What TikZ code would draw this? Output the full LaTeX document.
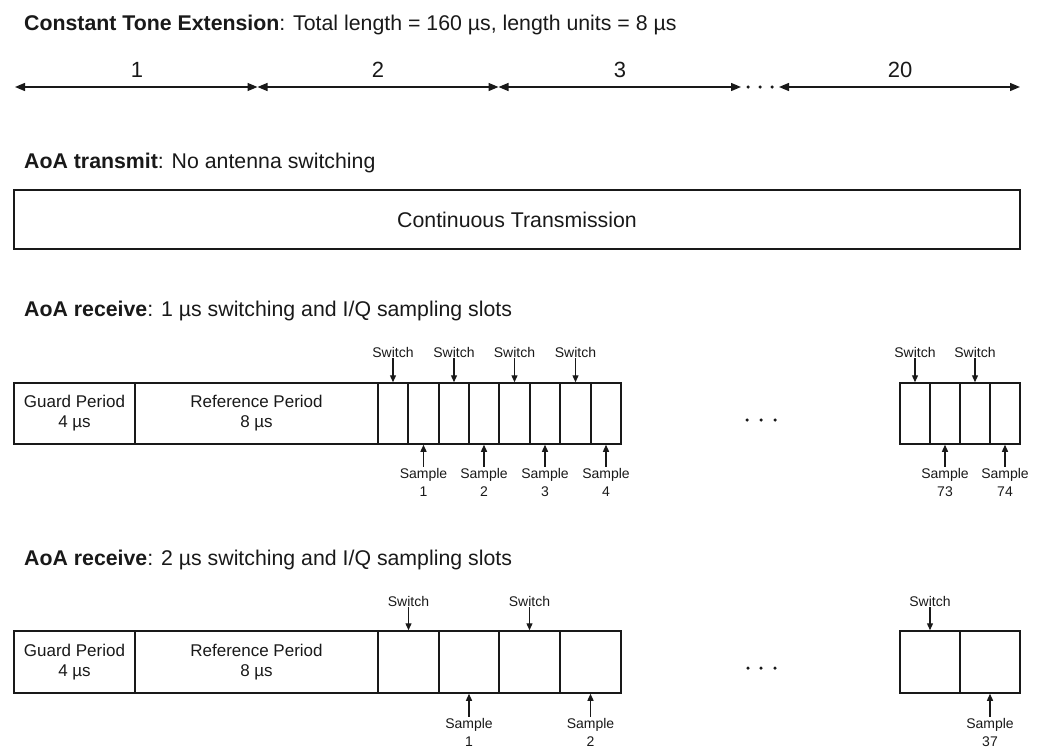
\documentclass[tikz,border=0pt]{standalone}
\usepackage{fontspec}
\setmainfont{Liberation Sans}
\usetikzlibrary{arrows.meta}
\begin{document}
\begin{tikzpicture}[x=1pt,y=-1pt,
  dim/.style={line width=1.4pt, draw=black!90, {Triangle[length=10pt,width=8pt]}-{Triangle[length=10pt,width=8pt]}},
  ptr/.style={line width=1.3pt, draw=black!90, -{Triangle[length=7pt,width=6pt]}},
  heading/.style={anchor=west, font=\fontsize{21.3}{24}\selectfont, inner sep=0pt, text=black!90},
  num/.style={font=\fontsize{22}{24}\selectfont, inner sep=0pt, text=black!90},
  cell/.style={draw=black!90, line width=1.5pt, minimum height=61pt, inner sep=0pt, align=center, font=\fontsize{17}{20}\selectfont, text=black!90},
  tag/.style={font=\fontsize{14}{18}\selectfont, inner sep=1pt, align=center, text=black!90},
  dot/.style={fill=black!90, circle, inner sep=0pt, minimum size=3.5pt}
]
\useasboundingbox (0,0) rectangle (1037,747);

% ---- Constant Tone Extension ----
\node[heading] (title) at (24,25) {\textbf{Constant Tone Extension}: Total length = 160 µs, length units = 8 µs};
\coordinate (a0) at (15,87);
\coordinate (a1) at (257.5,87);
\coordinate (a2) at (498.5,87);
\coordinate (a3) at (741,87);
\coordinate (a4) at (779,87);
\coordinate (a5) at (1020,87);
\draw[dim] (a0) -- (a1);
\draw[dim] (a1) -- (a2);
\draw[dim] (a2) -- (a3);
\draw[dim] (a4) -- (a5);
\node[num] (n1) at (137,70) {1};
\node[num] (n2) at (378,70) {2};
\node[num] (n3) at (620,70) {3};
\node[num] (n20) at (900,70) {20};
\node[dot] (d1) at (748,87) {};
\node[dot] (d2) at (760,87) {};
\node[dot] (d3) at (772,87) {};

% ---- AoA transmit ----
\node[heading] (txh) at (24,163) {\textbf{AoA transmit}: No antenna switching};
\node[cell, minimum width=1006pt, minimum height=59pt, font=\fontsize{21.3}{24}\selectfont] (tx) at (517,219.5) {Continuous Transmission};

% ---- AoA receive 1 us ----
\node[heading] (r1h) at (24,311) {\textbf{AoA receive}: 1 µs switching and I/Q sampling slots};
\node[cell, minimum width=121pt] (g1) at (74.5,413.5) {Guard Period\\4 µs};
\node[cell, minimum width=243pt] (p1) at (256.5,413.5) {Reference Period\\8 µs};
\foreach \i/\l/\r in {1/378/408,2/408/439,3/439/469,4/469/499,5/499/530,6/530/560,7/560/591,8/591/621} {
  \pgfmathsetmacro\xx{(\l+\r)/2}
  \pgfmathsetmacro\ww{\r-\l}
  \node[cell, minimum width=\ww pt] (ra\i) at (\xx,413.5) {};
}
\foreach \i in {1,3,5,7} {
  \node[tag] (raw\i) at (ra\i.center |- 0,352) {Switch};
  \draw[ptr] (raw\i.south) -- (ra\i.north);
}
\foreach \i/\k in {2/1,4/2,6/3,8/4} {
  \node[tag] (ras\i) at (ra\i.center |- 0,482) {Sample\\\k};
  \draw[ptr] (ras\i.north) -- (ra\i.south);
}
\node[dot] (e1) at (747,420) {};
\node[dot] (e2) at (761,420) {};
\node[dot] (e3) at (775,420) {};
\foreach \i in {1,...,4} {
  \pgfmathsetmacro\xx{900+30*(\i-0.5)}
  \node[cell, minimum width=30pt] (rb\i) at (\xx,413.5) {};
}
\foreach \i in {1,3} {
  \node[tag] (rbw\i) at (rb\i.center |- 0,352) {Switch};
  \draw[ptr] (rbw\i.south) -- (rb\i.north);
}
\foreach \i/\k in {2/73,4/74} {
  \node[tag] (rbs\i) at (rb\i.center |- 0,482) {Sample\\\k};
  \draw[ptr] (rbs\i.north) -- (rb\i.south);
}

% ---- AoA receive 2 us ----
\node[heading] (r2h) at (24,560) {\textbf{AoA receive}: 2 µs switching and I/Q sampling slots};
\node[cell, minimum width=121pt, minimum height=62pt] (g2) at (74.5,662) {Guard Period\\4 µs};
\node[cell, minimum width=243pt, minimum height=62pt] (p2) at (256.5,662) {Reference Period\\8 µs};
\foreach \i/\l/\r in {1/378/439,2/439/499,3/499/560,4/560/621} {
  \pgfmathsetmacro\xx{(\l+\r)/2}
  \pgfmathsetmacro\ww{\r-\l}
  \node[cell, minimum width=\ww pt, minimum height=62pt] (sa\i) at (\xx,662) {};
}
\foreach \i in {1,3} {
  \node[tag] (saw\i) at (sa\i.center |- 0,601) {Switch};
  \draw[ptr] (saw\i.south) -- (sa\i.north);
}
\foreach \i/\k in {2/1,4/2} {
  \node[tag] (sas\i) at (sa\i.center |- 0,732) {Sample\\\k};
  \draw[ptr] (sas\i.north) -- (sa\i.south);
}
\node[dot] (f1) at (748,668) {};
\node[dot] (f2) at (761,668) {};
\node[dot] (f3) at (775,668) {};
\node[cell, minimum width=60pt, minimum height=62pt] (sb1) at (930,662) {};
\node[cell, minimum width=60pt, minimum height=62pt] (sb2) at (990,662) {};
\node[tag] (sbw1) at (930,601) {Switch};
\draw[ptr] (sbw1.south) -- (sb1.north);
\node[tag] (sbs2) at (990,732) {Sample\\37};
\draw[ptr] (sbs2.north) -- (sb2.south);
\end{tikzpicture}
\end{document}
